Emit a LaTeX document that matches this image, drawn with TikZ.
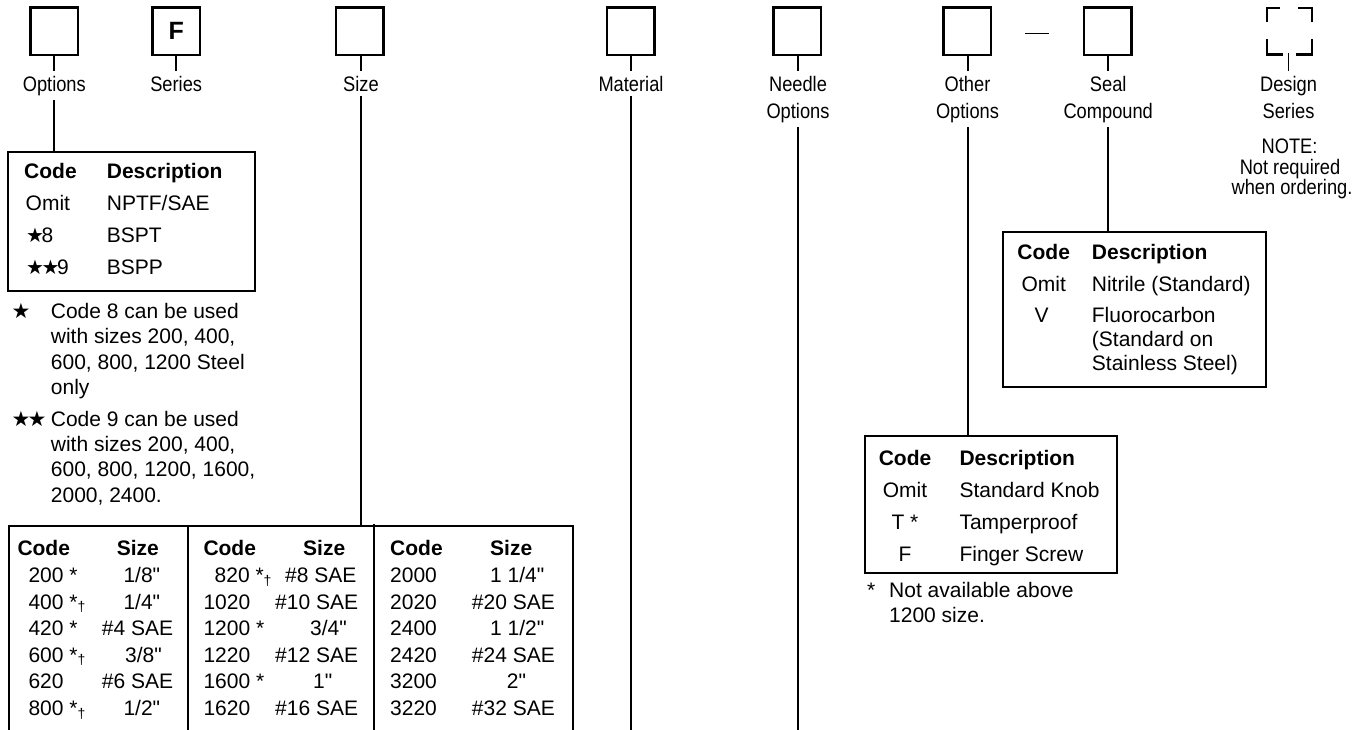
\documentclass[tikz,border=0pt]{standalone}
\usepackage{fontspec}
\setmainfont{Liberation Sans}[Ligatures=TeXOff]
\newfontfamily\lblfam[FakeStretch=0.87]{Liberation Sans}
\newfontfamily\symfam{DejaVu Sans}
\newcommand\lblfnt{\lblfam\fontsize{21}{24}\selectfont}
\newcommand\txfnt{\fontsize{21}{24}\selectfont}
\newcommand\hdfnt{\bfseries\fontsize{21}{24}\selectfont}
\newcommand\tstar{\makebox[15.5pt][l]{\symfam\fontsize{20}{20}\selectfont ★}}
\newcommand\fstar{\makebox[16pt][l]{\symfam\fontsize{21}{21}\selectfont ★}}
\newcommand\mydag{\raisebox{-2.5pt}{\fontsize{14}{14}\selectfont †}}
\tikzset{
  sq/.style={draw, line width=2.3pt, minimum width=47.5pt, minimum height=47.5pt, inner sep=0pt, outer sep=0pt},
  lbl/.style={font=\lblfnt, inner xsep=0pt, inner ysep=4.5pt, anchor=base},
  ln/.style={line width=2pt},
  tbox/.style={draw, line width=2.3pt, inner sep=0pt, outer sep=0pt, anchor=north west},
  tx/.style={font=\txfnt, inner sep=0pt, anchor=base west},
  txc/.style={font=\txfnt, inner sep=0pt, anchor=base},
  hd/.style={font=\hdfnt, inner sep=0pt, anchor=base west},
  hdc/.style={font=\hdfnt, inner sep=0pt, anchor=base},
}
\begin{document}
\begin{tikzpicture}[x=1pt,y=-1pt]
\useasboundingbox (0,0) rectangle (1364,729);
% top boxes
\node[sq] (bOpt) at (54.3,31.2) {};
\node[sq, font=\bfseries\fontsize{25}{25}\selectfont] (bSer) at (176.2,31.2) {F};
\node[sq] (bSize) at (359.8,31.2) {};
\node[sq] (bMat) at (630.7,31.2) {};
\node[sq] (bNee) at (797.3,31.2) {};
\node[sq] (bOth) at (967.3,31.2) {};
\node[sq] (bSeal) at (1107.8,31.2) {};
\node[minimum width=45pt, minimum height=46pt, inner sep=0pt] (bDes) at (1289.5,31.2) {};
\draw[line width=2.3pt] (bDes.north west) ++(0,14) -- ++(0,-14) -- ++(13,0);
\draw[line width=2.3pt] (bDes.north east) ++(0,14) -- ++(0,-14) -- ++(-14,0);
\draw[line width=2.3pt] (bDes.south west) ++(0,-15) -- ++(0,15) -- ++(16,0);
\draw[line width=2.3pt] (bDes.south east) ++(0,-15) -- ++(0,15) -- ++(-16,0);
\coordinate (d1) at (1025,33.3);
\coordinate (d2) at (1049,33.3);
\draw[line width=1.6pt] (d1) -- (d2);
% labels
\node[lbl] (lOpt) at (54.3,91) {Options};
\node[lbl] (lSer) at (176.2,91) {Series};
\node[lbl] (lSize) at (361,91) {Size};
\node[lbl] (lMat) at (631,91) {Material};
\node[lbl] (lNee1) at (798,91) {Needle};
\node[lbl] (lNee2) at (798,118) {Options};
\node[lbl] (lOth1) at (967.5,91) {Other};
\node[lbl] (lOth2) at (967.5,118) {Options};
\node[lbl] (lSeal1) at (1108.2,91) {Seal};
\node[lbl] (lSeal2) at (1108.2,118) {Compound};
\node[lbl] (lDes1) at (1288.5,91) {Design};
\node[lbl] (lDes2) at (1288.5,118) {Series};
\node[lbl] (note1) at (1289.5,153) {NOTE:};
\node[lbl] (note2) at (1290,174) {Not required};
\node[lbl] (note3) at (1292,194.5) {when ordering.};
% ticks
\draw[ln] (bOpt.south) -- (lOpt.north);
\draw[ln] (bSer.south) -- (lSer.north);
\draw[ln] (bSize.south -| lSize) -- (lSize.north);
\draw[ln] (bMat.south -| lMat) -- (lMat.north);
\draw[ln] (bNee.south -| lNee1) -- (lNee1.north);
\draw[ln] (bOth.south -| lOth1) -- (lOth1.north);
\draw[ln] (bSeal.south -| lSeal1) -- (lSeal1.north);
\draw[line width=1.8pt] (bDes.south -| lDes1) ++(0,-1) -- (lDes1.north);
% tables
\node[tbox, minimum width=246.7pt, minimum height=139pt] (tOpt) at (8.3,152) {};
\node[inner sep=0pt, outer sep=0pt, anchor=north west, minimum width=564pt, minimum height=208pt] (tSize) at (9,526) {};
\draw[line width=2.3pt] (tSize.south west) -- (tSize.north west) -- (tSize.north east) -- (tSize.south east);
\coordinate (p1t) at (188.3,526);
\coordinate (p1b) at (188.3,734);
\coordinate (p2t) at (373.8,524);
\coordinate (p2b) at (373.8,734);
\draw[line width=2.3pt] (p1t) -- (p1b);
\draw[line width=2.3pt] (p2t) -- (p2b);
\node[tbox, minimum width=251.7pt, minimum height=136.7pt] (tOth) at (865,436) {};
\node[tbox, minimum width=262.7pt, minimum height=155pt] (tSeal) at (1003.3,231.7) {};
% connectors down
\coordinate (eMat) at (631,731);
\coordinate (eNee) at (798,731);
\draw[ln] (lOpt.south) -- (lOpt.south |- tOpt.north);
\draw[ln] (lSize.south) -- (lSize.south |- tSize.north);
\draw[ln] (lMat.south) -- (eMat);
\draw[ln] (lNee2.south) -- (eNee);
\draw[ln] (lOth2.south) -- (lOth2.south |- tOth.north);
\draw[ln] (lSeal2.south) -- (lSeal2.south |- tSeal.north);
% options table
\node[hd] (oh1) at (24,178) {Code};
\node[hd] (oh2) at (106.7,178) {Description};
\node[tx] (oc1) at (25.5,210) {Omit};
\node[tx] (od1) at (106.7,210) {NPTF/SAE};
\node[tx] (oc2) at (26,242) {\tstar8};
\node[tx] (od2) at (106.7,242) {BSPT};
\node[tx] (oc3) at (26,274) {\tstar\tstar9};
\node[tx] (od3) at (106.7,274) {BSPP};
% options footnotes
\node[tx] (fs1) at (11.5,318) {\fstar};
\node[tx] (f1a) at (50.7,318) {Code 8 can be used};
\node[tx] (f1b) at (50.7,343.5) {with sizes 200, 400,};
\node[tx] (f1c) at (50.7,369) {600, 800, 1200 Steel};
\node[tx] (f1d) at (50.7,394) {only};
\node[tx] (fs2) at (11.5,426) {\fstar\fstar};
\node[tx] (f2a) at (50.7,426) {Code 9 can be used};
\node[tx] (f2b) at (50.7,451) {with sizes 200, 400,};
\node[tx] (f2c) at (50.7,476.5) {600, 800, 1200, 1600,};
\node[tx] (f2d) at (50.7,502) {2000, 2400.};
% size table panel 1
\node[hd] (s1h1) at (17.3,555) {Code};
\node[hd] (s1h2) at (116.7,555) {Size};
\node[tx] (s1c1) at (28.3,582.5) {200 *};
\node[tx] (s1s1) at (123.3,582.5) {1/8"};
\node[tx] (s1c2) at (28.3,609.1) {400 *\mydag};
\node[tx] (s1s2) at (123.3,609.1) {1/4"};
\node[tx] (s1c3) at (28.3,635.7) {420 *};
\node[tx] (s1s3) at (101.7,635.7) {\#4 SAE};
\node[tx] (s1c4) at (28.3,662.3) {600 *\mydag};
\node[tx] (s1s4) at (125,662.3) {3/8"};
\node[tx] (s1c5) at (28.3,688.9) {620};
\node[tx] (s1s5) at (101.7,688.9) {\#6 SAE};
\node[tx] (s1c6) at (28.3,715.5) {800 *\mydag};
\node[tx] (s1s6) at (123.3,715.5) {1/2"};
% panel 2
\node[hd] (s2h1) at (203.3,555) {Code};
\node[hd] (s2h2) at (303,555) {Size};
\node[tx] (s2c1) at (214.5,582.5) {820 *\mydag};
\node[tx] (s2s1) at (285,582.5) {\#8 SAE};
\node[tx] (s2c2) at (203.3,609.1) {1020};
\node[tx] (s2s2) at (275,609.1) {\#10 SAE};
\node[tx] (s2c3) at (203.3,635.7) {1200 *};
\node[tx] (s2s3) at (310,635.7) {3/4"};
\node[tx] (s2c4) at (203.3,662.3) {1220};
\node[tx] (s2s4) at (275,662.3) {\#12 SAE};
\node[tx] (s2c5) at (203.3,688.9) {1600 *};
\node[tx] (s2s5) at (313,688.9) {1"};
\node[tx] (s2c6) at (203.3,715.5) {1620};
\node[tx] (s2s6) at (275,715.5) {\#16 SAE};
% panel 3
\node[hd] (s3h1) at (390,555) {Code};
\node[hd] (s3h2) at (490,555) {Size};
\node[tx] (s3c1) at (390,582.5) {2000};
\node[tx] (s3s1) at (490,582.5) {1 1/4"};
\node[tx] (s3c2) at (390,609.1) {2020};
\node[tx] (s3s2) at (471.7,609.1) {\#20 SAE};
\node[tx] (s3c3) at (390,635.7) {2400};
\node[tx] (s3s3) at (490,635.7) {1 1/2"};
\node[tx] (s3c4) at (390,662.3) {2420};
\node[tx] (s3s4) at (471.7,662.3) {\#24 SAE};
\node[tx] (s3c5) at (390,688.9) {3200};
\node[tx] (s3s5) at (506.7,688.9) {2"};
\node[tx] (s3c6) at (390,715.5) {3220};
\node[tx] (s3s6) at (471.7,715.5) {\#32 SAE};
% other options table
\node[hdc] (th1) at (905,465) {Code};
\node[hd] (th2) at (959.3,465) {Description};
\node[txc] (tc1) at (905,497) {Omit};
\node[tx] (td1) at (959.3,497) {Standard Knob};
\node[txc] (tc2) at (905,529) {T *};
\node[tx] (td2) at (959.3,529) {Tamperproof};
\node[txc] (tc3) at (905,561) {F};
\node[tx] (td3) at (959.3,561) {Finger Screw};
\node[tx] (tf0) at (867,597) {*};
\node[tx] (tf1) at (889,597) {Not available above};
\node[tx] (tf2) at (889,622.5) {1200 size.};
% seal compound table
\node[hdc] (eh1) at (1043.7,259.3) {Code};
\node[hd] (eh2) at (1091.7,259.3) {Description};
\node[txc] (ec1) at (1043.7,291.7) {Omit};
\node[tx] (ed1) at (1091.7,291.7) {Nitrile (Standard)};
\node[txc] (ec2) at (1041.5,322.7) {V};
\node[tx] (ed2) at (1091.7,322.7) {Fluorocarbon};
\node[tx] (ed3) at (1091.7,346.5) {(Standard on};
\node[tx] (ed4) at (1091.7,370) {Stainless Steel)};
\end{tikzpicture}
\end{document}
